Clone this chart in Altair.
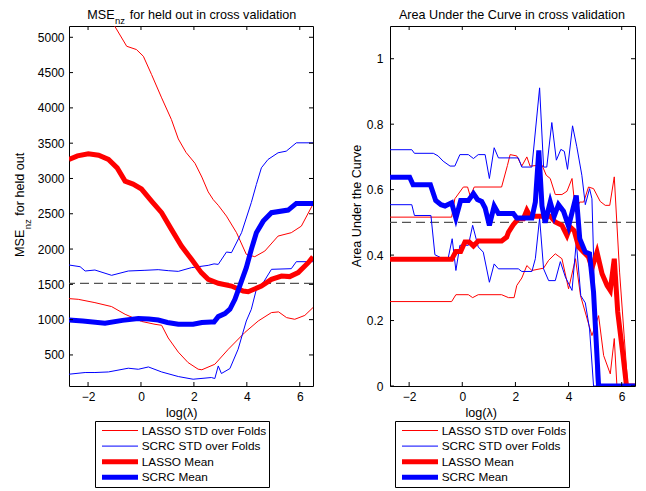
import altair as alt
import pandas as pd

FONT = "Liberation Sans"

SERIES = ["LASSO STD over Folds", "SCRC STD over Folds", "LASSO Mean", "SCRC Mean"]
SERIES_COLORS = ["#ff0000", "#0000ff", "#ff0000", "#0000ff"]
SERIES_WIDTHS = [1, 1, 5, 5]

X_TICKS = [-2, 0, 2, 4, 6]
MSE_TICKS = [500, 1000, 1500, 2000, 2500, 3000, 3500, 4000, 4500, 5000]
AUC_TICKS = [0, 0.2, 0.4, 0.6, 0.8, 1.0]
MSE_THRESHOLD = [1515]
AUC_THRESHOLD = [0.5]

# ---------------- MSE panel (left) ----------------
mse_lasso_mean_x = [-2.72, -2.4, -1.99, -1.6, -1.23, -0.9, -0.6, -0.3, 0.02, 0.4, 0.78, 1.15, 1.53, 1.91,
                    2.28, 2.54, 2.92, 3.42, 3.86, 4.05, 4.55, 4.93, 5.31, 5.62, 5.94, 6.32, 6.5]
mse_lasso_mean_y = [3269, 3320, 3350, 3330, 3270, 3150, 2962, 2920, 2850, 2680, 2515, 2279, 2043, 1854,
                    1666, 1571, 1515, 1476, 1405, 1395, 1476, 1571, 1618, 1610, 1666, 1807, 1892]

mse_scrc_mean_x = [-2.72, -2.2, -1.36, -0.7, -0.1, 0.3, 0.65, 1.0, 1.41, 1.97, 2.3, 2.66, 2.76, 2.92, 3.17,
                   3.36, 3.55, 3.74, 3.98, 4.17, 4.36, 4.62, 4.93, 5.56, 5.87, 6.5]
mse_scrc_mean_y = [995, 980, 949, 990, 1015, 1010, 995, 960, 934, 934, 960, 967, 967, 1043, 1086,
                   1147, 1288, 1486, 1737, 1996, 2232, 2396, 2515, 2552, 2647, 2647]

mse_lasso_up_x = [-2.72, -1.8, -0.98, -0.54, -0.17, 0.09, 0.4, 0.78, 1.15, 1.41, 1.7, 2.04, 2.3, 2.54, 2.73,
                  2.92, 3.23, 3.61, 3.98, 4.3, 4.68, 5.18, 5.68, 6.06, 6.46, 6.5]
mse_lasso_up_y = [6100, 5650, 5150, 4873, 4826, 4731, 4472, 4142, 3835, 3560, 3370, 3215, 3020, 2810, 2700,
                  2620, 2467, 2232, 1925, 1892, 1972, 2184, 2232, 2325, 2608, 2640]

mse_lasso_lo_x = [-2.72, -2.37, -1.74, -1.11, -0.6, 0.02, 0.53, 0.78, 1.03, 1.41, 1.78, 2.16, 2.3, 2.79,
                  3.3, 3.92, 4.43, 4.93, 5.2, 5.5, 5.81, 6.19, 6.5]
mse_lasso_lo_y = [1298, 1288, 1241, 1185, 1076, 975, 934, 920, 740, 540, 392, 298, 290, 368,
                  581, 817, 981, 1100, 1110, 1029, 1005, 1060, 1171]

mse_scrc_up_x = [-2.72, -2.3, -2.11, -1.74, -1.11, -0.48, 0.15, 0.65, 1.03, 1.41, 1.91, 2.54, 2.76, 2.92,
                 3.23, 3.42, 3.8, 4.17, 4.36, 4.55, 4.8, 5.18, 5.49, 5.87, 6.5]
mse_scrc_up_y = [1774, 1750, 1689, 1703, 1628, 1689, 1699, 1708, 1694, 1684, 1737, 1769, 1790, 1783,
                 1958, 1949, 2232, 2660, 2915, 3151, 3269, 3364, 3387, 3505, 3505]

mse_scrc_lo_x = [-2.72, -2.11, -1.74, -1.23, -0.48, -0.1, 0.28, 0.78, 1.41, 1.97, 2.66, 2.79, 2.92, 3.04,
                 3.36, 3.67, 3.98, 4.17, 4.36, 4.62, 4.93, 5.68, 5.87, 6.5]
mse_scrc_lo_y = [227, 251, 251, 259, 312, 297, 330, 259, 194, 156, 180, 166, 344, 237,
                 307, 581, 981, 1147, 1430, 1524, 1713, 1722, 1821, 1821]

# ---------------- AUC panel (right) ----------------
auc_scrc_mean_x = [-2.72, -1.98, -1.85, -1.2, -1.0, -0.8, -0.65, -0.4, -0.24, -0.06, 0.23, 0.42, 0.57, 0.73,
                   0.86, 1.02, 1.2, 1.36, 1.92, 2.05, 2.62, 2.75, 2.88, 3.0, 3.12, 3.31, 3.46, 3.62, 3.81,
                   4.0, 4.29, 4.42, 4.63, 4.79, 4.94, 5.13, 6.5]
auc_scrc_mean_y = [0.638, 0.638, 0.615, 0.615, 0.567, 0.554, 0.55, 0.56, 0.513, 0.567, 0.567, 0.588, 0.570,
                   0.564, 0.544, 0.491, 0.55, 0.527, 0.527, 0.513, 0.513, 0.562, 0.72, 0.55, 0.499, 0.562,
                   0.519, 0.554, 0.534, 0.488, 0.582, 0.45, 0.409, 0.404, 0.287, 0.0, 0.0]

auc_scrc_up_x = [-2.72, -1.9, -1.8, -1.09, -0.91, -0.72, -0.46, -0.28, -0.09, 0.23, 0.42, 0.6, 0.86, 1.02,
                 1.2, 1.36, 2.11, 2.24, 2.62, 2.91, 3.06, 3.18, 3.37, 3.54, 3.71, 3.84, 3.96, 4.15, 4.31,
                 4.5, 4.63, 4.79, 4.88, 4.95, 5.05, 6.5]
auc_scrc_up_y = [0.722, 0.722, 0.711, 0.711, 0.703, 0.687, 0.672, 0.672, 0.707, 0.707, 0.695, 0.707, 0.707,
                 0.634, 0.728, 0.697, 0.697, 0.669, 0.669, 0.911, 0.669, 0.669, 0.805, 0.69, 0.723, 0.717,
                 0.662, 0.795, 0.731, 0.644, 0.554, 0.603, 0.572, 0.37, 0.0, 0.0]

auc_scrc_lo_x = [-2.72, -1.9, -1.8, -1.18, -1.03, -0.78, -0.53, -0.38, -0.24, -0.09, 0.23, 0.39, 0.6, 0.79,
                 1.02, 1.2, 1.36, 2.11, 2.24, 2.62, 2.75, 2.91, 3.06, 3.25, 3.5, 3.69, 3.88, 4.13, 4.29,
                 4.46, 4.63, 4.79, 4.94, 6.5]
auc_scrc_lo_y = [0.554, 0.554, 0.521, 0.521, 0.401, 0.391, 0.391, 0.45, 0.353, 0.43, 0.43, 0.491, 0.425,
                 0.409, 0.317, 0.373, 0.358, 0.358, 0.35, 0.35, 0.389, 0.513, 0.358, 0.322, 0.322, 0.38,
                 0.333, 0.292, 0.44, 0.276, 0.254, 0.174, 0.0, 0.0]

auc_lasso_mean_x = [-2.72, -0.4, -0.24, -0.06, 0.1, 0.26, 0.42, 0.6, 1.48, 1.67, 1.74, 1.92, 2.11, 2.3, 2.43,
                    2.55, 3.31, 3.5, 3.75, 3.94, 4.06, 4.21, 4.38, 4.57, 4.75, 4.88, 5.07, 5.26, 5.45, 5.57,
                    5.72, 5.85, 6.05, 6.18, 6.5]
auc_lasso_mean_y = [0.387, 0.387, 0.411, 0.411, 0.44, 0.44, 0.428, 0.443, 0.443, 0.455, 0.47, 0.493, 0.511,
                    0.511, 0.537, 0.519, 0.519, 0.501, 0.491, 0.46, 0.486, 0.475, 0.425, 0.409, 0.394, 0.36,
                    0.409, 0.343, 0.307, 0.292, 0.389, 0.226, 0.093, 0.0, 0.0]

auc_lasso_up_x = [-2.72, -0.4, -0.28, 0.04, 0.2, 0.3, 0.45, 1.48, 1.7, 1.8, 2.05, 2.24, 2.43, 2.55, 3.0,
                  3.16, 3.31, 3.5, 3.75, 3.94, 4.13, 4.26, 4.42, 4.57, 4.75, 4.94, 5.19, 5.38, 5.55, 5.72,
                  5.92, 6.1, 6.23, 6.5]
auc_lasso_up_y = [0.516, 0.516, 0.572, 0.608, 0.608, 0.58, 0.608, 0.608, 0.674, 0.707, 0.703, 0.672, 0.7,
                  0.672, 0.675, 0.644, 0.634, 0.585, 0.585, 0.595, 0.634, 0.532, 0.562, 0.562, 0.608, 0.603,
                  0.564, 0.552, 0.552, 0.639, 0.348, 0.144, 0.0, 0.0]

auc_lasso_lo_x = [-2.72, -0.4, -0.24, 0.23, 0.39, 0.6, 1.48, 1.74, 1.95, 2.05, 2.24, 2.43, 2.62, 3.06, 3.25,
                  3.5, 3.75, 4.0, 4.26, 4.45, 4.7, 4.88, 5.13, 5.32, 5.57, 5.72, 5.82, 6.5]
auc_lasso_lo_y = [0.258, 0.258, 0.279, 0.279, 0.27, 0.279, 0.279, 0.27, 0.27, 0.307, 0.33, 0.368, 0.353,
                  0.36, 0.384, 0.404, 0.389, 0.297, 0.389, 0.276, 0.205, 0.154, 0.215, 0.093, 0.037, 0.145,
                  0.0, 0.0]


def frame(series, part, xs, ys):
    return pd.DataFrame({"series": series, "part": part, "x": xs, "y": ys})


def text_layer(text, x, y, size=12.6, angle=0, align="left"):
    return alt.Chart(pd.DataFrame({"t": [text]})).mark_text(
        align=align, baseline="alphabetic", font=FONT, fontSize=size, angle=angle, color="black"
    ).encode(text="t:N", x=alt.value(x), y=alt.value(y))


def panel(thin_df, lasso_df, scrc_df, thr, yticks, ydom, yfmt, W, H, legend_xy, texts, label_pad):
    xsc = alt.Scale(domain=[-2.72, 6.5], nice=False, zero=False)
    ysc = alt.Scale(domain=ydom, nice=False, zero=False)
    xax = alt.Axis(values=X_TICKS, format="d", title=None, grid=False, domain=False, ticks=True,
                   tickSize=0, labelPadding=5, labelFont=FONT, labelFontSize=12, labelColor="black")
    yax = alt.Axis(values=yticks, format=yfmt, title=None, grid=False, domain=False, ticks=True,
                   tickSize=0, labelPadding=label_pad, labelFont=FONT, labelFontSize=12, labelColor="black")
    X = alt.X("x:Q", scale=xsc, axis=xax)
    Y = alt.Y("y:Q", scale=ysc, axis=yax)
    leg = alt.Legend(title=None, orient="none", legendX=legend_xy[0], legendY=legend_xy[1],
                     direction="vertical", symbolType="M-3.6,0H3.6", symbolSize=100,
                     strokeColor="black", fillColor="white", padding=2, labelFont=FONT,
                     labelFontSize=11.8, labelColor="black", clipHeight=15, rowPadding=0.6,
                     symbolOffset=15.5, labelOffset=14.2, labelLimit=300, cornerRadius=0)
    color = alt.Color("series:N", scale=alt.Scale(domain=SERIES, range=SERIES_COLORS), legend=leg)
    sw = alt.StrokeWidth("series:N", scale=alt.Scale(type="ordinal", domain=SERIES, range=SERIES_WIDTHS),
                         legend=leg)

    dashed = alt.Chart(pd.DataFrame({"y": thr})).mark_rule(
        color="#555555", strokeDash=[9, 5], strokeWidth=1.3).encode(y=Y)
    thin = alt.Chart(thin_df).mark_line(clip=True).encode(x=X, y=Y, color=color, strokeWidth=sw,
                                                          detail="part:N")
    lasso = alt.Chart(lasso_df).mark_line(clip=True).encode(x=X, y=Y, color=color, strokeWidth=sw)
    scrc = alt.Chart(scrc_df).mark_line(clip=True).encode(x=X, y=Y, color=color, strokeWidth=sw)

    xt = pd.DataFrame({"x": X_TICKS})
    yt = pd.DataFrame({"y": yticks})
    tb = alt.Chart(xt).mark_rule(color="black").encode(x=X, y=alt.value(H), y2=alt.value(H - 4))
    tt = alt.Chart(xt).mark_rule(color="black").encode(x=X, y=alt.value(0), y2=alt.value(4))
    tl = alt.Chart(yt).mark_rule(color="black").encode(y=Y, x=alt.value(0), x2=alt.value(4))
    tr = alt.Chart(yt).mark_rule(color="black").encode(y=Y, x=alt.value(W - 4), x2=alt.value(W))

    layers = [dashed, thin, lasso, scrc, tb, tt, tl, tr] + texts
    return alt.layer(*layers).properties(width=W, height=H)


thin_mse = pd.concat([
    frame(SERIES[0], "up", mse_lasso_up_x, mse_lasso_up_y),
    frame(SERIES[0], "lo", mse_lasso_lo_x, mse_lasso_lo_y),
    frame(SERIES[1], "up", mse_scrc_up_x, mse_scrc_up_y),
    frame(SERIES[1], "lo", mse_scrc_lo_x, mse_scrc_lo_y),
])
thin_auc = pd.concat([
    frame(SERIES[0], "up", auc_lasso_up_x, auc_lasso_up_y),
    frame(SERIES[0], "lo", auc_lasso_lo_x, auc_lasso_lo_y),
    frame(SERIES[1], "up", auc_scrc_up_x, auc_scrc_up_y),
    frame(SERIES[1], "lo", auc_scrc_lo_x, auc_scrc_lo_y),
])

left_texts = [
    text_layer("MSE", 18.3, -7),
    text_layer("nz", 46, -2.5, size=9.5),
    text_layer("for held out in cross validation", 60.7, -7),
    text_layer("MSE", -45, 231, angle=270),
    text_layer("nz", -38.5, 203.2, size=9.5, angle=270),
    text_layer("for held out", -45, 189.7, angle=270),
    text_layer("log(λ)", 112.7, 390.5, align="center"),
]
right_texts = [
    text_layer("Area Under the Curve in cross validation", 122, -7, align="center"),
    text_layer("Area Under the Curve", -29, 180, angle=270, align="center"),
    text_layer("log(λ)", 91.3, 390.5, align="center"),
]

left = panel(thin_mse, frame(SERIES[2], "m", mse_lasso_mean_x, mse_lasso_mean_y),
             frame(SERIES[3], "m", mse_scrc_mean_x, mse_scrc_mean_y),
             MSE_THRESHOLD, MSE_TICKS, [60, 5160], "d", 244, 360, (26, 395), left_texts, 5)
right = panel(thin_auc, frame(SERIES[2], "m", auc_lasso_mean_x, auc_lasso_mean_y),
              frame(SERIES[3], "m", auc_scrc_mean_x, auc_scrc_mean_y),
              AUC_THRESHOLD, AUC_TICKS, [0, 1.1], "~g", 245, 360, (5, 395), right_texts, 7)

chart = alt.hconcat(left, right, spacing=35).resolve_scale(
    color="independent", strokeWidth="independent"
).resolve_legend(color="independent", strokeWidth="independent").configure_view(
    stroke="black", strokeWidth=1
).properties(padding={"left": 5, "top": 0, "right": 0, "bottom": 0}, background="white")

chart.save("out.html", embed_options={"renderer": "svg", "actions": False})
